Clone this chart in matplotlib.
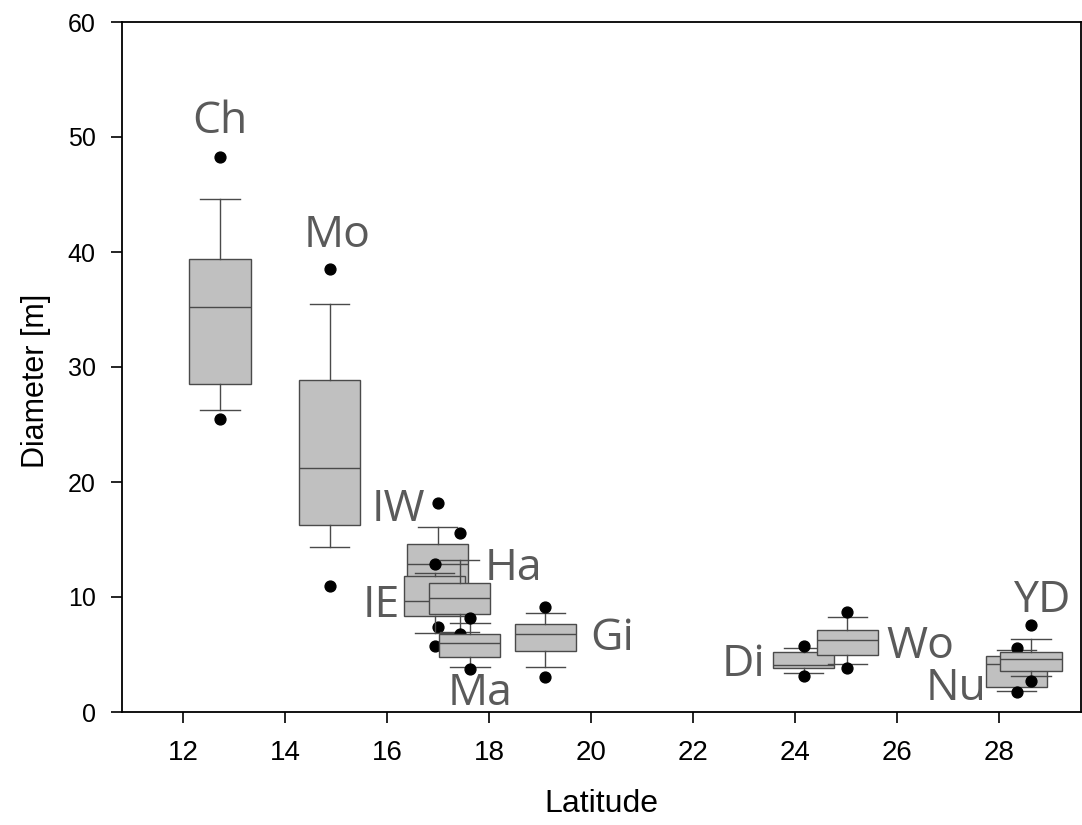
import matplotlib
matplotlib.use('Agg')
import matplotlib.pyplot as plt
from matplotlib import font_manager

############################################################################
# Data: one box per site, latitude vs crater diameter
############################################################################

sites = ['Ch', 'Mo', 'IW', 'IE', 'Ha', 'Ma', 'Gi', 'Di', 'Wo', 'Nu', 'YD']
latitude = [12.72, 14.87, 16.99, 16.93, 17.42, 17.62, 19.10, 24.16, 25.02, 28.34, 28.62]
q1 = [28.5, 16.3, 10.5, 8.35, 8.5, 4.8, 5.3, 3.8, 5.0, 2.2, 3.55]
median = [35.2, 21.2, 12.85, 9.65, 9.9, 6.0, 6.75, 4.1, 6.3, 4.15, 4.6]
q3 = [39.4, 28.9, 14.6, 11.8, 11.2, 6.8, 7.65, 5.2, 7.1, 4.9, 5.2]
whisker_low = [26.3, 14.35, 9.0, 6.9, 7.0, 3.9, 3.9, 3.4, 4.15, 1.85, 3.1]
whisker_high = [44.6, 35.5, 16.1, 12.1, 13.2, 7.7, 8.6, 5.55, 8.25, 5.4, 6.35]
outlier_low = [25.5, 11.0, 7.4, 5.7, 6.75, 3.75, 3.05, 3.1, 3.8, 1.75, 2.7]
outlier_high = [48.3, 38.5, 18.2, 12.9, 15.55, 8.2, 9.1, 5.75, 8.7, 5.55, 7.55]

x_ticks = [12, 14, 16, 18, 20, 22, 24, 26, 28]
y_ticks = [0, 10, 20, 30, 40, 50, 60]

# where the site names sit (text baseline, data coords)
label_pos = [(12.72, 50.35), (15.01, 40.43), (16.22, 16.6), (18.48, 11.48),
             (15.88, 8.26), (20.40, 5.4), (17.82, 0.6), (22.99, 3.13),
             (26.45, 4.7), (27.15, 1.04), (28.84, 8.7)]
label_order = ['Ch', 'Mo', 'IW', 'Ha', 'IE', 'Gi', 'Ma', 'Di', 'Wo', 'Nu', 'YD']

############################################################################
# Fonts
############################################################################

available = {f.name for f in font_manager.fontManager.ttflist}
narrow = 'Liberation Sans Narrow' if 'Liberation Sans Narrow' in available else 'Liberation Sans'
regular = 'Liberation Sans'
label_font = 'Open Sans'

############################################################################
# Plot
############################################################################

fig = plt.figure(figsize=(10.82, 8.25), dpi=100)
ax = fig.add_axes([122 / 1082, 1 - 712 / 825, (1081 - 122) / 1082, (712 - 22) / 825])

edge = '#4a4a4a'
for i, name in enumerate(sites):
    stats = [{'med': median[i], 'q1': q1[i], 'q3': q3[i],
              'whislo': whisker_low[i], 'whishi': whisker_high[i],
              'fliers': [outlier_low[i], outlier_high[i]], 'label': name}]
    ax.bxp(stats, positions=[latitude[i]], widths=[1.2], capwidths=[0.77],
           patch_artist=True, manage_ticks=False, zorder=3 + i,
           boxprops=dict(facecolor='#c0c0c0', edgecolor=edge, linewidth=1.0),
           medianprops=dict(color=edge, linewidth=1.0),
           whiskerprops=dict(color=edge, linewidth=1.0),
           capprops=dict(color=edge, linewidth=1.0),
           flierprops=dict(marker='o', markerfacecolor='k', markeredgecolor='k',
                           markersize=7.8))

for name, (lx, ly) in zip(label_order, label_pos):
    ax.text(lx, ly, name, ha='center', va='baseline', fontsize=32,
            color='#5a5a5a', family=label_font, zorder=20)

ax.set_xlim(10.8, 29.6)
ax.set_ylim(0, 60)
ax.set_xticks(x_ticks)
ax.set_yticks(y_ticks)

for s in ax.spines.values():
    s.set_linewidth(1.3)
    s.set_color('k')

ax.tick_params(axis='both', direction='out', length=8, width=1.2, color='k')
ax.tick_params(axis='y', pad=11)
ax.tick_params(axis='x', pad=12)
for t in ax.get_yticklabels():
    t.set_fontfamily(regular)
    t.set_fontsize(18)
for t in ax.get_xticklabels():
    t.set_fontfamily(narrow)
    t.set_fontsize(20)

ax.set_xlabel('Latitude', fontsize=23, family=narrow, labelpad=17)
ax.set_ylabel('Diameter [m]', fontsize=22, family=narrow)
ax.yaxis.set_label_coords(-0.074, 0.48)

fig.savefig('out.png', dpi=100)
